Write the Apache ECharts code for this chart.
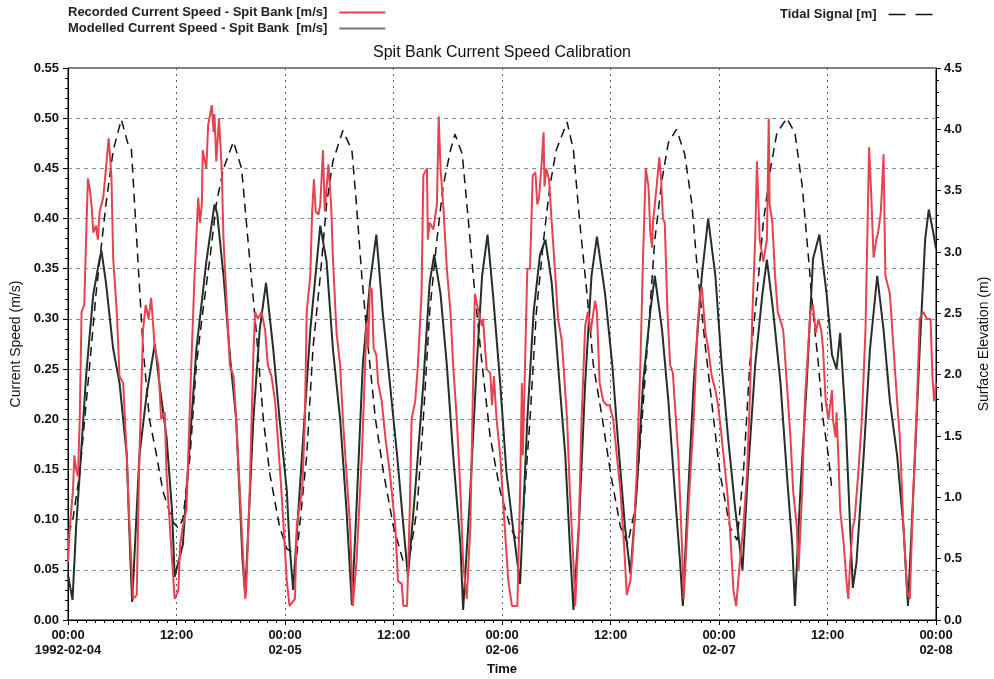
<!DOCTYPE html>
<html>
<head>
<meta charset="utf-8">
<script src="https://cdn.jsdelivr.net/npm/echarts@6/dist/echarts.min.js"></script>
<style>
html,body{margin:0;padding:0;background:#fff;width:994px;height:679px;overflow:hidden;}
#chart{width:994px;height:679px;display:block;}
</style>
</head>
<body>
<div id="chart"></div>
<script>
// ---- data (hours since 1992-02-04 00:00) ----
const tickHours = [0, 12, 24, 36, 48, 60, 72, 84, 96];
const tickLabels = ['00:00\n1992-02-04', '12:00', '00:00\n02-05', '12:00', '00:00\n02-06', '12:00', '00:00\n02-07', '12:00', '00:00\n02-08'];

const recordedHours = [0,0.2,0.55,0.7,0.9,1.1,1.3,1.5,1.8,2.0,2.2,2.4,2.6,2.8,3.1,3.3,3.5,3.9,4.2,4.5,4.8,5.0,5.4,5.7,6.1,6.5,6.8,7.2,7.6,7.9,8.3,8.6,8.9,9.2,9.6,10.0,10.3,10.7,10.9,11.4,11.8,12.2,12.4,12.7,13.1,13.3,13.7,14.0,14.4,14.6,14.8,14.9,15.3,15.5,15.9,16.1,16.2,16.4,16.7,17.0,17.2,17.5,17.9,18.3,18.6,19.2,19.6,19.7,20.1,20.5,20.7,21.0,21.4,21.8,22.1,22.5,22.9,23.2,23.6,24.2,24.5,25.1,25.3,25.5,25.9,26.2,26.4,26.8,27.0,27.2,27.4,27.7,27.9,28.2,28.4,28.8,29.1,29.3,29.7,30.1,30.4,30.8,31.2,31.5,31.9,32.5,32.9,33.0,33.2,33.4,33.6,33.8,34.1,34.3,34.7,35.1,35.6,36.2,36.5,36.9,37.1,37.5,37.8,38.0,38.4,38.7,39.1,39.3,39.7,39.8,40.0,40.4,40.8,41.0,41.2,41.5,41.9,42.3,42.6,43.0,43.4,43.7,44.1,44.5,44.8,45.0,45.4,45.8,45.9,46.3,46.7,46.9,47.1,47.4,47.8,48.3,48.7,49.1,49.7,50.0,50.2,50.3,50.5,50.8,51.1,51.4,51.7,51.9,52.1,52.4,52.6,52.7,52.9,53.2,53.5,53.9,54.2,54.6,54.8,55.2,55.5,55.9,56.1,56.5,56.8,57.2,57.5,57.8,58.0,58.3,58.5,58.8,59.2,59.6,59.9,60.3,60.7,61.1,61.5,61.8,62.2,62.5,62.9,63.3,63.6,63.9,64.2,64.4,64.6,64.7,65.1,65.4,65.6,65.8,66.0,66.3,66.6,66.9,67.1,67.5,67.9,68.1,68.6,69.2,69.6,69.9,70.1,70.5,70.8,71.2,71.6,71.9,72.3,72.9,73.2,73.6,73.9,74.3,74.7,75.1,75.4,75.7,76.0,76.2,76.3,76.5,76.9,77.3,77.5,77.6,77.9,78.2,78.5,79.1,79.5,79.9,80.2,80.6,80.8,81.2,81.5,82.1,82.4,82.7,83.0,83.3,83.5,83.8,84.1,84.5,84.6,84.9,85.0,85.2,85.4,85.8,86.1,86.3,86.5,86.8,87.0,87.4,87.8,88.2,88.4,88.6,88.8,89.1,89.4,89.6,89.9,90.2,90.4,90.9,91.3,91.7,92.0,92.4,92.8,93.1,93.5,93.9,94.2,94.6,95.0,95.4,95.6,95.8,96.0];
const recordedSpeed = [0.057,0.093,0.129,0.164,0.15,0.143,0.2,0.307,0.314,0.379,0.44,0.43,0.414,0.386,0.393,0.379,0.407,0.421,0.45,0.48,0.443,0.36,0.307,0.243,0.236,0.164,0.093,0.021,0.025,0.164,0.289,0.314,0.3,0.321,0.271,0.254,0.2,0.207,0.146,0.075,0.021,0.029,0.075,0.093,0.11,0.164,0.271,0.343,0.421,0.396,0.414,0.468,0.45,0.493,0.513,0.486,0.504,0.457,0.5,0.45,0.379,0.325,0.254,0.243,0.2,0.093,0.021,0.029,0.129,0.264,0.307,0.3,0.307,0.289,0.254,0.243,0.218,0.182,0.129,0.039,0.014,0.021,0.093,0.107,0.129,0.2,0.307,0.343,0.407,0.439,0.407,0.404,0.414,0.468,0.407,0.454,0.414,0.361,0.286,0.254,0.2,0.146,0.093,0.014,0.057,0.164,0.264,0.296,0.271,0.332,0.329,0.271,0.264,0.236,0.218,0.182,0.146,0.093,0.039,0.036,0.014,0.014,0.11,0.2,0.218,0.254,0.325,0.443,0.45,0.379,0.396,0.389,0.414,0.502,0.45,0.414,0.35,0.307,0.254,0.2,0.129,0.057,0.021,0.093,0.236,0.325,0.307,0.293,0.3,0.25,0.246,0.214,0.243,0.2,0.164,0.093,0.039,0.014,0.014,0.129,0.236,0.164,0.236,0.35,0.35,0.443,0.446,0.414,0.421,0.457,0.486,0.432,0.45,0.439,0.396,0.343,0.3,0.279,0.254,0.2,0.129,0.057,0.014,0.093,0.2,0.293,0.307,0.286,0.3,0.318,0.307,0.236,0.218,0.214,0.214,0.2,0.164,0.129,0.075,0.025,0.039,0.075,0.146,0.254,0.361,0.45,0.432,0.386,0.371,0.396,0.432,0.461,0.439,0.4,0.396,0.307,0.254,0.246,0.218,0.164,0.075,0.021,0.11,0.2,0.289,0.325,0.332,0.286,0.271,0.243,0.229,0.214,0.182,0.129,0.093,0.029,0.014,0.057,0.093,0.146,0.218,0.307,0.379,0.457,0.432,0.379,0.357,0.379,0.5,0.414,0.396,0.343,0.307,0.289,0.236,0.182,0.129,0.093,0.05,0.129,0.218,0.307,0.314,0.286,0.3,0.289,0.271,0.218,0.2,0.229,0.2,0.182,0.207,0.164,0.11,0.075,0.039,0.021,0.057,0.093,0.1,0.146,0.2,0.289,0.379,0.471,0.432,0.361,0.379,0.386,0.407,0.464,0.343,0.325,0.271,0.218,0.182,0.093,0.029,0.021,0.129,0.218,0.3,0.307,0.3,0.3,0.243,0.218,0.236];

const modelledHours = [0,0.5,0.9,1.3,2.0,2.8,3.5,3.7,4.2,5.0,5.7,6.5,6.9,7.1,7.9,8.7,9.6,10.1,10.9,11.5,11.8,12.7,13.5,14.2,15.3,16.2,16.5,17.2,17.9,18.6,19.3,19.6,20.5,21.2,21.9,22.7,23.4,24.2,24.5,24.9,26.0,26.8,27.9,28.6,29.3,30.1,30.8,31.4,31.9,32.6,33.4,34.1,34.8,35.6,36.4,37.1,37.6,38.4,39.3,40.0,40.5,41.2,41.9,42.6,43.4,43.7,44.5,45.2,45.8,46.4,47.0,47.8,48.5,49.2,50.0,50.8,51.5,52.2,52.8,53.5,54.2,55.0,55.5,55.9,56.5,57.2,57.9,58.5,59.4,60.2,60.8,61.6,62.2,62.9,63.6,64.4,64.9,65.7,66.4,67.1,67.7,68.0,68.5,69.2,70.1,70.8,71.6,72.3,73.0,73.8,74.6,75.2,76.0,76.8,77.3,78.0,78.8,79.5,80.1,80.4,81.0,81.7,82.4,83.1,83.9,84.5,85.0,85.4,86.0,86.5,86.8,87.2,88.0,88.7,89.5,90.2,90.9,91.7,92.4,92.9,93.5,94.2,94.8,95.2,95.7,96.0];
const modelledSpeed = [0.045,0.02,0.093,0.146,0.243,0.325,0.36,0.368,0.336,0.27,0.236,0.164,0.06,0.018,0.164,0.225,0.275,0.236,0.182,0.11,0.043,0.075,0.18,0.27,0.357,0.414,0.405,0.343,0.264,0.2,0.06,0.025,0.2,0.289,0.336,0.27,0.2,0.129,0.075,0.03,0.18,0.289,0.393,0.357,0.27,0.2,0.11,0.015,0.11,0.254,0.336,0.384,0.307,0.236,0.164,0.093,0.043,0.129,0.236,0.336,0.364,0.325,0.254,0.164,0.075,0.01,0.129,0.254,0.343,0.384,0.325,0.236,0.146,0.093,0.036,0.2,0.307,0.364,0.379,0.336,0.254,0.164,0.075,0.01,0.093,0.236,0.343,0.382,0.325,0.254,0.182,0.093,0.046,0.129,0.236,0.307,0.343,0.289,0.218,0.129,0.057,0.014,0.11,0.236,0.343,0.4,0.343,0.254,0.182,0.11,0.05,0.146,0.254,0.325,0.359,0.307,0.236,0.146,0.075,0.014,0.129,0.236,0.36,0.384,0.325,0.264,0.25,0.286,0.2,0.093,0.032,0.057,0.164,0.27,0.343,0.289,0.218,0.164,0.093,0.014,0.129,0.27,0.379,0.409,0.386,0.37];

const tideHours = [0,0.5,1.3,2.4,3.1,4.2,5.0,5.9,6.6,7.0,7.6,8.3,9.0,9.8,10.5,11.6,12.2,12.7,13.5,14.2,14.9,15.7,16.4,17.2,18.3,19.2,19.9,20.8,21.6,22.3,23.4,24.2,25.3,26.4,27.1,27.9,28.6,29.3,30.4,31.4,31.9,32.5,33.2,34.0,34.9,36.0,37.1,37.6,38.6,39.3,40.0,40.8,41.5,42.3,42.8,43.6,44.3,45.0,45.8,46.7,47.8,48.9,49.7,50.3,51.1,51.8,52.6,53.3,54.0,55.2,55.9,56.6,57.4,58.1,59.1,60.0,61.1,61.9,62.7,63.5,64.2,64.9,65.7,66.4,67.3,68.2,69.0,69.6,70.5,71.4,72.1,73.2,74.0,74.7,75.4,76.2,76.9,77.7,78.4,79.5,80.4,81.2,81.9,82.4,83.0,83.5,84.1,84.5];
const tideLevel = [0.7,0.8,1.2,2.08,2.66,3.39,3.83,4.08,3.89,3.85,3.1,2.22,1.64,1.34,1.05,0.8,0.75,0.82,1.34,2.08,2.51,2.95,3.39,3.68,3.9,3.68,3.1,2.37,1.64,1.2,0.76,0.58,0.53,1.34,2.22,2.8,3.39,3.74,3.99,3.83,3.39,2.8,2.22,1.64,1.2,0.76,0.47,0.43,0.9,1.64,2.51,3.1,3.54,3.83,3.96,3.8,3.24,2.66,2.08,1.49,1.05,0.76,0.64,0.82,1.64,2.51,3.1,3.54,3.83,4.06,3.83,3.24,2.66,2.08,1.64,1.2,0.76,0.62,0.9,1.64,2.37,3.1,3.59,3.89,4.0,3.8,3.39,2.86,2.22,1.64,1.2,0.76,0.65,1.2,2.08,2.66,3.24,3.68,3.97,4.09,3.97,3.54,2.95,2.51,2.08,1.64,1.34,1.05];

const pair = (xs, ys) => xs.map((x, i) => [x, ys[i]]);

const chart = echarts.init(document.getElementById('chart'), null, {renderer: 'canvas', width: 994, height: 679});
const FONT = 'Liberation Sans, Arial, sans-serif';
const RED = '#e5434f';
const DARK = '#243024';
const legendText = {fontFamily: FONT, fontSize: 13, fontWeight: 'bold', color: '#222', padding: [0, 7, 0, 0]};

chart.setOption({
  animation: false,
  backgroundColor: '#ffffff',
  title: {
    text: 'Spit Bank Current Speed Calibration',
    left: 502, top: 45, textAlign: 'center', padding: 0,
    textStyle: {fontFamily: FONT, fontSize: 16, fontWeight: 'normal', color: '#111'}
  },
  legend: [
    {
      left: 68, top: 6, padding: 0, orient: 'vertical', align: 'right',
      itemWidth: 46, itemHeight: 12, itemGap: 3,
      itemStyle: {opacity: 0},
      textStyle: legendText,
      data: [
        {name: 'Recorded Current Speed - Spit Bank [m/s]'},
        {name: 'Modelled Current Speed - Spit Bank  [m/s]', lineStyle: {color: '#7a7a7a'}}
      ]
    },
    {
      left: 780, top: 8, padding: 0, orient: 'vertical', align: 'right',
      itemWidth: 46, itemHeight: 12,
      itemStyle: {opacity: 0},
      textStyle: legendText,
      data: [{name: 'Tidal Signal [m]', lineStyle: {type: [17, 10], width: 1.5}}]
    }
  ],
  grid: {left: 68, right: 58, top: 68, bottom: 59, show: true, borderColor: '#000', borderWidth: 1, containLabel: false, outerBoundsMode: 'none'},
  xAxis: {
    type: 'value', min: 0, max: 96, interval: 12,
    name: 'Time', nameLocation: 'middle', nameGap: 39,
    nameTextStyle: {fontFamily: FONT, fontSize: 13, fontWeight: 'bold', color: '#111'},
    axisLine: {lineStyle: {color: '#000', width: 1}},
    axisTick: {show: true, length: 5, lineStyle: {color: '#000'}},
    minorTick: {show: true, splitNumber: 12, length: 3, lineStyle: {color: '#000'}},
    axisLabel: {
      fontFamily: FONT, fontSize: 13, fontWeight: 'bold', color: '#111', lineHeight: 15, margin: 8,
      formatter: v => { const i = tickHours.indexOf(v); return i >= 0 ? tickLabels[i] : ''; }
    },
    splitLine: {show: true, lineStyle: {color: '#55606a', type: [2, 4], width: 1}}
  },
  yAxis: [
    {
      type: 'value', min: 0, max: 0.55, interval: 0.05, position: 'left',
      name: 'Current Speed (m/s)', nameLocation: 'middle', nameGap: 44, nameRotate: 90,
      nameTextStyle: {fontFamily: FONT, fontSize: 14, color: '#111'},
      axisLine: {show: true, lineStyle: {color: '#000', width: 1}},
      axisTick: {show: true, length: 5, lineStyle: {color: '#000'}},
      minorTick: {show: true, splitNumber: 5, length: 3, lineStyle: {color: '#000'}},
      axisLabel: {fontFamily: FONT, fontSize: 13, fontWeight: 'bold', color: '#111', margin: 9, formatter: v => v.toFixed(2)},
      splitLine: {show: true, lineStyle: {color: '#7d8ea3', type: [4, 4], width: 1}}
    },
    {
      type: 'value', min: 0, max: 4.5, interval: 0.5, position: 'right',
      name: 'Surface Elevation (m)', nameLocation: 'middle', nameGap: 41, nameRotate: 90,
      nameTextStyle: {fontFamily: FONT, fontSize: 14, color: '#111'},
      axisLine: {show: true, lineStyle: {color: '#000', width: 1}},
      axisTick: {show: true, length: 5, lineStyle: {color: '#000'}},
      minorTick: {show: true, splitNumber: 5, length: 3, lineStyle: {color: '#000'}},
      axisLabel: {fontFamily: FONT, fontSize: 13, fontWeight: 'bold', color: '#111', margin: 8, formatter: v => v.toFixed(1)},
      splitLine: {show: false}
    }
  ],
  series: [
    {
      name: 'Tidal Signal [m]', type: 'line', yAxisIndex: 1, symbol: 'none', smooth: false, z: 2,
      data: pair(tideHours, tideLevel),
      lineStyle: {color: '#111', width: 1.5, type: [9, 6]}, itemStyle: {color: '#111'}
    },
    {
      name: 'Modelled Current Speed - Spit Bank  [m/s]', type: 'line', yAxisIndex: 0, symbol: 'none', z: 3,
      data: pair(modelledHours, modelledSpeed),
      lineStyle: {color: DARK, width: 2}, itemStyle: {color: DARK}
    },
    {
      name: 'Recorded Current Speed - Spit Bank [m/s]', type: 'line', yAxisIndex: 0, symbol: 'none', z: 4,
      data: pair(recordedHours, recordedSpeed),
      lineStyle: {color: RED, width: 2}, itemStyle: {color: RED}
    }
  ]
});
</script>
</body>
</html>
